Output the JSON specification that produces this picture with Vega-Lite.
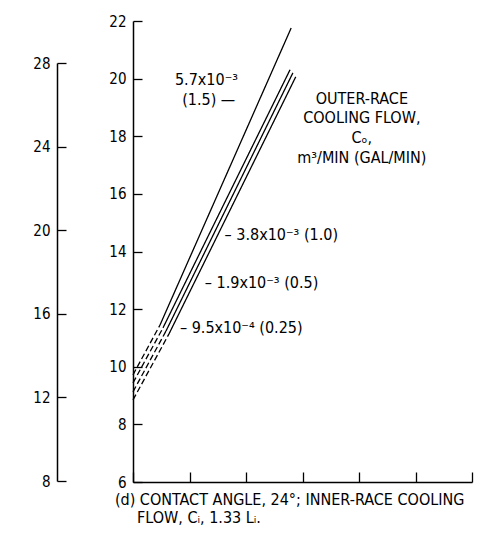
{
  "$schema": "https://vega.github.io/schema/vega-lite/v6.json",
  "width": 339,
  "height": 461,
  "autosize": {"type": "none"},
  "padding": {"left": 133, "top": 21, "right": 12, "bottom": 57},
  "background": "white",
  "config": {
    "view": {"stroke": null},
    "axis": {"domainColor": "black", "tickColor": "black", "labelColor": "black", "domainWidth": 1.5, "tickWidth": 1.3, "grid": false, "labelFont": "DejaVu Sans Condensed", "labelFontSize": 15},
    "text": {"font": "DejaVu Sans Condensed", "color": "black"}
  },
  "resolve": {"scale": {"y": "independent"}, "axis": {"y": "independent"}},
  "layer": [
    {
      "layer": [
        {
          "data": {"values": [
            {"series": "A", "seg": "A-s", "style": "solid", "x": 0.478, "y": 11.45},
            {"series": "A", "seg": "A-s", "style": "solid", "x": 2.80, "y": 21.76},
            {"series": "A", "seg": "A-d", "style": "dashed", "x": 0.0, "y": 9.72},
            {"series": "A", "seg": "A-d", "style": "dashed", "x": 0.478, "y": 11.45},
            {"series": "B", "seg": "B-s", "style": "solid", "x": 0.531, "y": 11.35},
            {"series": "B", "seg": "B-s", "style": "solid", "x": 2.78, "y": 20.31},
            {"series": "B", "seg": "B-d", "style": "dashed", "x": 0.0, "y": 9.44},
            {"series": "B", "seg": "B-d", "style": "dashed", "x": 0.531, "y": 11.35},
            {"series": "C", "seg": "C-s", "style": "solid", "x": 0.584, "y": 11.24},
            {"series": "C", "seg": "C-s", "style": "solid", "x": 2.83, "y": 20.20},
            {"series": "C", "seg": "C-d", "style": "dashed", "x": 0.0, "y": 9.13},
            {"series": "C", "seg": "C-d", "style": "dashed", "x": 0.584, "y": 11.24},
            {"series": "D", "seg": "D-s", "style": "solid", "x": 0.637, "y": 11.14},
            {"series": "D", "seg": "D-s", "style": "solid", "x": 2.88, "y": 20.06},
            {"series": "D", "seg": "D-d", "style": "dashed", "x": 0.0, "y": 8.85},
            {"series": "D", "seg": "D-d", "style": "dashed", "x": 0.637, "y": 11.14}
          ]},
          "mark": {"type": "line", "color": "black", "strokeWidth": 1.3},
          "encoding": {
            "x": {"field": "x", "type": "quantitative", "scale": {"domain": [0, 6], "nice": false, "zero": false},
                  "axis": {"values": [0, 1, 2, 3, 4, 5, 6], "labels": false, "title": null, "tickSize": -10, "domainWidth": 1.5}},
            "y": {"field": "y", "type": "quantitative", "scale": {"domain": [6, 22], "nice": false, "zero": false},
                  "axis": {"orient": "left", "values": [6, 8, 10, 12, 14, 16, 18, 20, 22], "title": null, "tickSize": -9, "labelPadding": 16}},
            "detail": {"field": "seg"},
            "strokeDash": {"field": "style", "type": "nominal", "scale": {"domain": ["solid", "dashed"], "range": [[1, 0], [6, 3]]}, "legend": null}
          }
        },
        {
          "data": {"values": [
            {"x": 1.30, "y": 19.96, "label": "5.7x10⁻³"},
            {"x": 4.05, "y": 19.30, "label": "OUTER-RACE"},
            {"x": 4.05, "y": 18.64, "label": "COOLING FLOW,"},
            {"x": 4.05, "y": 17.95, "label": "Cₒ,"},
            {"x": 4.05, "y": 17.25, "label": "m³/MIN (GAL/MIN)"}
          ]},
          "mark": {"type": "text", "align": "center", "baseline": "middle", "fontSize": 16},
          "encoding": {
            "x": {"field": "x", "type": "quantitative"},
            "y": {"field": "y", "type": "quantitative"},
            "text": {"field": "label"}
          }
        },
        {
          "data": {"values": [
            {"x": 0.87, "y": 19.26, "label": "(1.5) —"},
            {"x": 1.62, "y": 14.58, "label": "– 3.8x10⁻³ (1.0)"},
            {"x": 1.27, "y": 12.91, "label": "– 1.9x10⁻³ (0.5)"},
            {"x": 0.83, "y": 11.35, "label": "– 9.5x10⁻⁴ (0.25)"}
          ]},
          "mark": {"type": "text", "align": "left", "baseline": "middle", "fontSize": 16},
          "encoding": {
            "x": {"field": "x", "type": "quantitative"},
            "y": {"field": "y", "type": "quantitative"},
            "text": {"field": "label"}
          }
        },
        {
          "data": {"values": [
            {"x": -0.32, "y": 5.375, "label": "(d) CONTACT ANGLE, 24°; INNER-RACE COOLING"},
            {"x": 0.07, "y": 4.75, "label": "FLOW, Cᵢ, 1.33 Lᵢ."}
          ]},
          "mark": {"type": "text", "align": "left", "baseline": "middle", "fontSize": 16},
          "encoding": {
            "x": {"field": "x", "type": "quantitative"},
            "y": {"field": "y", "type": "quantitative"},
            "text": {"field": "label"}
          }
        }
      ]
    },
    {
      "data": {"values": [{"v": 8}, {"v": 28}]},
      "mark": {"type": "point", "opacity": 0},
      "encoding": {
        "y": {"field": "v", "type": "quantitative", "scale": {"domain": [8, 28], "range": [460, 42], "nice": false, "zero": false},
              "axis": {"orient": "left", "offset": 76, "values": [8, 12, 16, 20, 24, 28], "title": null, "tickSize": -9, "labelPadding": 16}}
      }
    }
  ]
}
